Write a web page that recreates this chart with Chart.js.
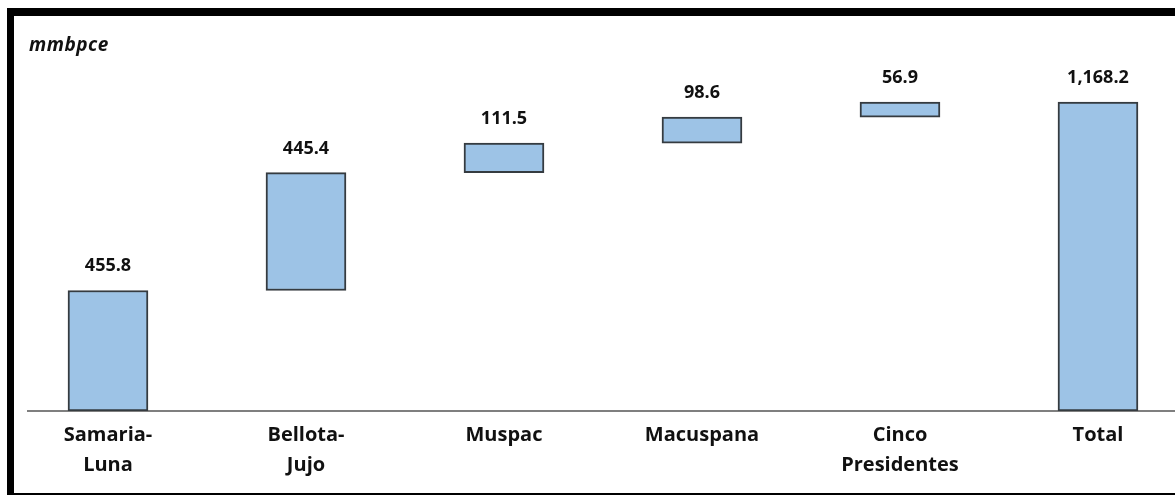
<!DOCTYPE html>
<html>
<head>
<meta charset="utf-8">
<script src="https://cdn.jsdelivr.net/npm/chart.js@4.4.0/dist/chart.umd.min.js"></script>
<style>
    html, body { margin: 0; padding: 0; background: #fff; overflow: hidden; }
    #wrap { position: relative; width: 1175px; height: 495px; }
    #frame {
        position: absolute; left: 7px; top: 8px; width: 1168px; height: 477px;
        border-top: 8px solid #000; border-left: 7px solid #000; border-bottom: 2px solid #000;
        pointer-events: none;
    }
    #unit {
        position: absolute; left: 29px; top: 31px;
        font: italic bold 19px "Open Sans", sans-serif; color: #111;
        letter-spacing: 0.5px;
    }
</style>
</head>
<body>
<div id="wrap">
    <canvas id="waterfall" width="1175" height="495"></canvas>
    <div id="frame"></div>
    <div id="unit">mmbpce</div>
</div>
<script>
const categories = [['Samaria-', 'Luna'], ['Bellota-', 'Jujo'], 'Muspac', 'Macuspana', ['Cinco', 'Presidentes'], 'Total'];
const values = [455.8, 445.4, 111.5, 98.6, 56.9, 1168.2];
const valueLabels = ['455.8', '445.4', '111.5', '98.6', '56.9', '1,168.2'];
const isTotal = [false, false, false, false, false, true];

document.addEventListener("DOMContentLoaded", function () {
    const ctx = document.getElementById('waterfall').getContext('2d');

    // floating bars: each step starts where the previous one ended
    let running = 0;
    const bars = values.map((v, i) => {
        if (isTotal[i]) return { x: i, y: [0, v] };
        const seg = { x: i, y: [running, running + v] };
        running += v;
        return seg;
    });

    const valueLabelPlugin = {
        id: 'valueLabels',
        afterDatasetsDraw(chart) {
            const c = chart.ctx;
            c.save();
            c.font = 'bold 18px "Open Sans", sans-serif';
            c.fillStyle = '#111';
            c.textAlign = 'center';
            c.textBaseline = 'alphabetic';
            chart.getDatasetMeta(0).data.forEach((el, i) => {
                c.fillText(valueLabels[i], el.x, el.y - 19);
            });
            c.restore();
        }
    };

    new Chart(ctx, {
        type: 'bar',
        data: {
            datasets: [{
                data: bars,
                backgroundColor: '#9dc3e6',
                borderColor: '#353b40',
                borderWidth: 2,
                borderSkipped: false,
                barThickness: 80,
            }]
        },
        options: {
            responsive: false,
            animation: false,
            layout: { padding: { left: 28, right: 0, top: 50, bottom: 0 } },
            scales: {
                x: {
                    type: 'linear',
                    offset: false,
                    min: -0.404,
                    max: 5.389,
                    afterBuildTicks: (scale) => {
                        scale.ticks = categories.map((c, i) => ({ value: i }));
                    },
                    afterFit: (scale) => { scale.height = 84; },
                    grid: { display: false, drawTicks: false },
                    border: { display: true, color: '#7f7f7f', width: 2 },
                    ticks: {
                        padding: 9,
                        color: '#111',
                        autoSkip: false,
                        maxRotation: 0,
                        font: { family: 'Open Sans', size: 20, weight: 'bold', lineHeight: 1.5 },
                        callback: (v) => categories[v],
                    }
                },
                y: {
                    display: false,
                    min: 0,
                    max: 1365,
                }
            },
            plugins: {
                legend: { display: false },
                tooltip: { enabled: false }
            }
        },
        plugins: [valueLabelPlugin]
    });
});
</script>
</body>
</html>
